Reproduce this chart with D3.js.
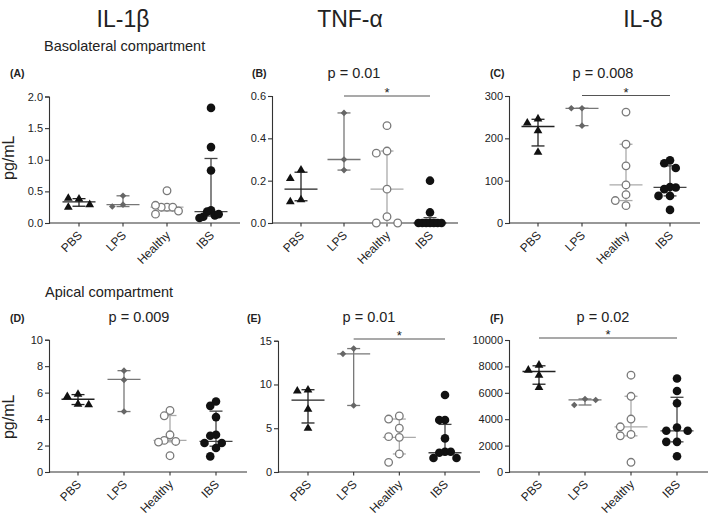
<!DOCTYPE html>
<html><head><meta charset="utf-8">
<script src="https://cdn.jsdelivr.net/npm/d3@7"></script>
<style>
body{margin:0;background:#fff}
svg{display:block}
text{font-family:"Liberation Sans",Arial,Helvetica,sans-serif;fill:#222}
.title{font-family:"Liberation Sans Narrow","Arial Narrow","Liberation Sans",sans-serif;font-size:23px}
</style>
</head><body>
<svg id="chart" width="709" height="516"></svg>
<script>
// ---------- data ----------
const categories = ["PBS", "LPS", "Healthy", "IBS"];
const cytokines = ["IL-1β", "TNF-α", "IL-8"];
const compartments = ["Basolateral compartment", "Apical compartment"];
const panelLetters = ["(A)", "(B)", "(C)", "(D)", "(E)", "(F)"];
const pValues = ["", "p = 0.01", "p = 0.008", "p = 0.009", "p = 0.01", "p = 0.02"];

// y tick labels per panel
const ticksA = [0, 0.5, 1.0, 1.5, 2.0];
const ticksB = [0, 0.2, 0.4, 0.6];
const ticksC = [0, 100, 200, 300];
const ticksD = [0, 2, 4, 6, 8, 10];
const ticksE = [0, 5, 10, 15];
const ticksF = [0, 2000, 4000, 6000, 8000, 10000];

// (A) IL-1β basolateral, pg/mL : PBS, LPS, Healthy, IBS
const valuesA = [
  [0.38, 0.39, 0.29, 0.25],
  [0.43, 0.29, 0.26],
  [0.51, 0.25, 0.25, 0.25, 0.28, 0.19, 0.14],
  [1.82, 1.20, 0.83, 0.20, 0.18, 0.12, 0.10, 0.14, 0.08]
];
const medianA = [0.335, 0.29, 0.25, 0.18];
const lowA = [0.265, 0.26, 0.19, 0.11];
const highA = [0.385, 0.43, 0.28, 1.02];

// (B) TNF-α basolateral
const valuesB = [
  [0.25, 0.21, 0.11, 0.10],
  [0.52, 0.30, 0.25],
  [0.46, 0.34, 0.33, 0.16, 0.03, 0.0, 0.0],
  [0.20, 0.05, 0, 0, 0, 0, 0, 0, 0]
];
const medianB = [0.16, 0.30, 0.16, 0.0];
const lowB = [0.105, 0.25, 0.0, 0.0];
const highB = [0.24, 0.52, 0.34, 0.025];

// (C) IL-8 basolateral
const valuesC = [
  [246, 236, 218, 167],
  [271, 271, 230],
  [262, 186, 135, 90, 67, 53, 41],
  [148, 141, 130, 85, 80, 84, 64, 64, 31]
];
const medianC = [228, 271, 90, 84];
const lowC = [182, 230, 53, 64];
const highC = [245, 271, 186, 135];

// (D) IL-1β apical
const valuesD = [
  [5.88, 5.70, 5.13, 5.08],
  [7.66, 6.96, 4.57],
  [4.65, 4.25, 2.81, 2.39, 2.31, 2.26, 1.23],
  [5.33, 5.00, 4.15, 2.81, 2.74, 2.19, 2.19, 1.81, 1.18]
];
const medianD = [5.5, 7.0, 2.39, 2.31];
const lowD = [5.1, 4.57, 2.28, 1.95];
const highD = [5.85, 7.66, 4.27, 4.6];

// (E) TNF-α apical
const valuesE = [
  [9.36, 9.25, 7.16, 4.99],
  [14.1, 13.5, 7.6],
  [6.4, 6.05, 5.0, 4.04, 3.96, 2.06, 1.1],
  [8.8, 5.94, 5.94, 3.84, 2.32, 2.2, 2.32, 1.6, 1.6]
];
const medianE = [8.2, 13.5, 3.96, 2.2];
const lowE = [5.6, 7.6, 2.06, 2.0];
const highE = [9.4, 14.1, 6.05, 5.44];

// (F) IL-8 apical
const valuesF = [
  [8096, 7716, 7335, 6396],
  [5533, 5076, 5457],
  [7335, 5736, 4010, 3426, 2843, 2741, 736],
  [7081, 6142, 5203, 3376, 3122, 3122, 2284, 2284, 1193]
];
const medianF = [7614, 5457, 3426, 3122];
const lowF = [6650, 5076, 2741, 2284];
const highF = [8046, 5533, 5736, 5660];

// significance bars: [from category, to category]
const sigB = ["LPS", "IBS"];
const sigC = ["LPS", "IBS"];
const sigE = ["LPS", "IBS"];
const sigF = ["PBS", "IBS"];

// ---------- layout ----------
const svg = d3.select("#chart");

const panels = [
  {vals: valuesA, med: medianA, lo: lowA, hi: highA, ticks: ticksA, fmt: d3.format(".1f"), dom: [0, 2],
   ax: [49, 240], cx: [79, 211], ry: [223, 96.5], sig: null, ylab: true},
  {vals: valuesB, med: medianB, lo: lowB, hi: highB, ticks: ticksB, fmt: d3.format(".1f"), dom: [0, 0.6],
   ax: [272, 458], cx: [301, 430], ry: [223, 96], sig: sigB, sigY: 96},
  {vals: valuesC, med: medianC, lo: lowC, hi: highC, ticks: ticksC, fmt: d3.format("d"), dom: [0, 300],
   ax: [509, 700], cx: [538, 670], ry: [223, 96], sig: sigC, sigY: 95.5},
  {vals: valuesD, med: medianD, lo: lowD, hi: highD, ticks: ticksD, fmt: d3.format("d"), dom: [0, 10],
   ax: [49, 247], cx: [78, 216], ry: [472, 339.7], sig: null, ylab: true},
  {vals: valuesE, med: medianE, lo: lowE, hi: highE, ticks: ticksE, fmt: d3.format("d"), dom: [0, 15],
   ax: [278, 480], cx: [308, 445], ry: [472, 340.7], sig: sigE, sigY: 339},
  {vals: valuesF, med: medianF, lo: lowF, hi: highF, ticks: ticksF, fmt: d3.format("d"), dom: [0, 10000],
   ax: [509, 708], cx: [539, 677], ry: [472, 340], sig: sigF, sigY: 338}
];

const markerFill = ["#111", "#666", "#fff", "#111"];
const markerStroke = ["none", "none", "#7a7a7a", "none"];
const barColor = ["#222", "#777", "#aaa", "#444"];
const symbols = [
  d3.symbol().type(d3.symbolTriangle).size(33),
  d3.symbol().type(d3.symbolSquare).size(22),
  d3.symbol().type(d3.symbolCircle).size(Math.PI * 3.8 * 3.8),
  d3.symbol().type(d3.symbolCircle).size(Math.PI * 4.3 * 4.3)
];

// simple beeswarm: place points at the closest free column offset
function swarm(vals, y, step, minDist, maxHalf) {
  const placed = [];
  const out = vals.map(v => {
    const py = y(v);
    for (let k = 0; k < 30; k++) {
      const off = k === 0 ? 0 : (k % 2 ? -Math.ceil(k / 2) : Math.ceil(k / 2)) * step;
      if (placed.every(p => Math.hypot(p.x - off, p.y - py) >= minDist)) {
        placed.push({x: off, y: py});
        return {v: v, off: off, py: py};
      }
    }
    return {v: v, off: 0, py: py};
  });
  const m = d3.max(out, d => Math.abs(d.off));
  if (m > maxHalf) out.forEach(d => d.off *= maxHalf / m);
  return out;
}

panels.forEach((p, i) => {
  const g = svg.append("g");
  const x = d3.scalePoint().domain(categories).range(p.cx);
  const y = d3.scaleLinear().domain(p.dom).range(p.ry);

  // y axis
  const yAxis = d3.axisLeft(y).tickValues(p.ticks).tickFormat(p.fmt).tickSize(4).tickPadding(2);
  const ya = g.append("g").attr("transform", `translate(${p.ax[0]},0)`).call(yAxis);
  ya.select(".domain").attr("stroke", "#333").attr("stroke-width", 1.1);
  ya.selectAll(".tick line").attr("stroke", "#333").attr("stroke-width", 1.1);
  ya.selectAll(".tick text").attr("font-size", 11).attr("fill", "#222")
    .style("font-family", '"Liberation Sans",Arial,sans-serif');

  // x axis
  const xa = g.append("g").attr("transform", `translate(0,${p.ry[0]})`);
  xa.append("line").attr("x1", p.ax[0]).attr("x2", p.ax[1]).attr("y1", 0).attr("y2", 0)
    .attr("stroke", "#333").attr("stroke-width", 1.1);
  categories.forEach(c => {
    xa.append("line").attr("x1", x(c)).attr("x2", x(c)).attr("y1", 0).attr("y2", 3.5)
      .attr("stroke", "#333").attr("stroke-width", 1.1);
    xa.append("text").attr("text-anchor", "end").attr("font-size", 12)
      .attr("transform", `translate(${x(c) + 4},${13}) rotate(-45)`).text(c);
  });

  // error bars (median with interquartile range)
  categories.forEach((c, k) => {
    const cx = x(c), col = barColor[k];
    const bg = g.append("g").attr("stroke", col).attr("stroke-width", 1.3).attr("fill", "none");
    bg.append("line").attr("x1", cx).attr("x2", cx).attr("y1", y(p.lo[k])).attr("y2", y(p.hi[k]));
    bg.append("line").attr("x1", cx - 6.5).attr("x2", cx + 6.5).attr("y1", y(p.lo[k])).attr("y2", y(p.lo[k]));
    bg.append("line").attr("x1", cx - 6.5).attr("x2", cx + 6.5).attr("y1", y(p.hi[k])).attr("y2", y(p.hi[k]));
    bg.append("line").attr("x1", cx - 16.5).attr("x2", cx + 16.5).attr("y1", y(p.med[k])).attr("y2", y(p.med[k]));
  });

  // points
  categories.forEach((c, k) => {
    const pts = swarm(p.vals[k], y, 10.7, 8.5, 11.5);
    g.selectAll(null).data(pts).enter().append("path")
      .attr("d", symbols[k])
      .attr("transform", d => `translate(${x(c) + d.off},${d.py})` + (k === 1 ? " rotate(45)" : ""))
      .attr("fill", markerFill[k])
      .attr("stroke", markerStroke[k])
      .attr("stroke-width", k === 2 ? 1.3 : 0);
  });

  // significance bar
  if (p.sig) {
    const x1 = x(p.sig[0]), x2 = x(p.sig[1]);
    g.append("line").attr("x1", x1).attr("x2", x2).attr("y1", p.sigY).attr("y2", p.sigY)
      .attr("stroke", "#555").attr("stroke-width", 1.1);
    g.append("text").attr("x", (x1 + x2) / 2).attr("y", p.sigY + 1).attr("text-anchor", "middle")
      .attr("font-size", 13).text("*");
  }

  // y-axis title
  if (p.ylab) {
    const cy = (p.ry[0] + p.ry[1]) / 2 + (i === 3 ? 11 : -2);
    g.append("text").attr("transform", `translate(14,${cy}) rotate(-90)`)
      .attr("text-anchor", "middle").attr("font-size", 16).text("pg/mL");
  }
});

// column titles
const titleX = [123, 350, 643];
cytokines.forEach((t, i) => {
  svg.append("text").attr("class", "title").attr("x", titleX[i]).attr("y", 27)
    .attr("text-anchor", "middle").text(t);
});

// compartment labels
svg.append("text").attr("x", 44).attr("y", 51).attr("font-size", 14.5).text(compartments[0]);
svg.append("text").attr("x", 45).attr("y", 297).attr("font-size", 14.5).text(compartments[1]);

// panel letters and p values
const letterPos = [[10, 77], [252, 77], [490, 77], [10, 322], [247, 322], [490, 322]];
const pPos = [[0, 0], [354, 78], [603, 78], [139, 322], [369, 322], [603, 322]];
panelLetters.forEach((l, i) => {
  svg.append("text").attr("x", letterPos[i][0]).attr("y", letterPos[i][1])
    .attr("font-size", 10.5).attr("font-weight", "bold").text(l);
  if (pValues[i]) {
    svg.append("text").attr("x", pPos[i][0]).attr("y", pPos[i][1]).attr("text-anchor", "middle")
      .attr("font-size", 14.5).text(pValues[i]);
  }
});
</script>
</body></html>
